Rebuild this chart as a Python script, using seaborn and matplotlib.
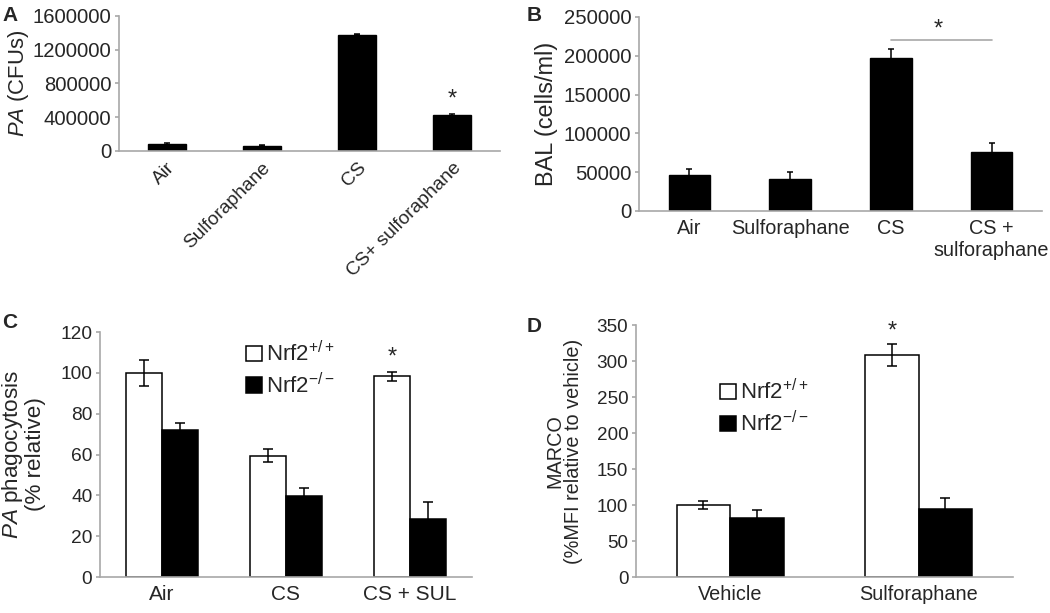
import matplotlib
matplotlib.use('Agg')
import matplotlib.pyplot as plt
from matplotlib.ticker import FixedLocator
import pandas as pd
import seaborn as sns

# panel A
a_groups = ['Air', 'Sulforaphane', 'CS', 'CS+ sulforaphane']
a_values = [85000, 62000, 1380000, 425000]
a_errors = [10000, 5000, 5000, 18000]

# panel B
b_groups = ['Air', 'Sulforaphane', 'CS', 'CS +\nsulforaphane']
b_values = [47000, 41000, 197000, 76000]
b_errors = [7000, 9000, 12000, 12000]

# panel C
c_groups = ['Air', 'CS', 'CS + SUL']
c_wt = [100, 59.5, 98.3]
c_wt_err = [6.3, 3.3, 2.3]
c_ko = [71.8, 39.7, 28.3]
c_ko_err = [3.4, 4.0, 8.5]

# panel D
d_groups = ['Vehicle', 'Sulforaphane']
d_wt = [100, 308]
d_wt_err = [5, 15.5]
d_ko = [82, 95]
d_ko_err = [11.5, 14.5]

genotypes = [r'Nrf2$^{+/+}$', r'Nrf2$^{-/-}$']

sns.set_style('white')
plt.rcParams['font.family'] = ['Liberation Sans', 'DejaVu Sans']
plt.rcParams['mathtext.fontset'] = 'custom'
plt.rcParams['mathtext.rm'] = 'Liberation Sans'
plt.rcParams['mathtext.it'] = 'Liberation Sans:italic'
plt.rcParams['mathtext.default'] = 'regular'

AXIS_GREY = '#a8a8a8'


def style_axes(ax, n_groups, xsize, ysize):
    """Grey axis lines, boundary ticks on x, short ticks on y."""
    for side in ['top', 'right']:
        ax.spines[side].set_visible(False)
    for side in ['left', 'bottom']:
        ax.spines[side].set_color(AXIS_GREY)
        ax.spines[side].set_linewidth(1.2)
    ax.set_xlim(-0.5, n_groups - 0.5)
    ax.tick_params(axis='x', which='major', length=0, labelsize=xsize, pad=6)
    ax.xaxis.set_minor_locator(FixedLocator([i - 0.5 for i in range(n_groups + 1)]))
    ax.tick_params(axis='x', which='minor', length=5, color=AXIS_GREY, width=1.2)
    ax.tick_params(axis='y', length=3, color=AXIS_GREY, width=1.2, labelsize=ysize,
                   pad=2.5, left=True)
    ax.set_xlabel('')


def add_errors(ax, errs_per_hue, capsize):
    for container, errs in zip(ax.containers, errs_per_hue):
        xs = [b.get_x() + b.get_width() / 2 for b in container]
        ys = [b.get_height() for b in container]
        ax.errorbar(xs, ys, yerr=errs, fmt='none', ecolor='black',
                    elinewidth=1.1, capsize=capsize, capthick=1.1, zorder=3)


fig = plt.figure(figsize=(10.5, 6.13), dpi=100)

# ---- A
ax_a = fig.add_axes([0.1133, 0.7537, 0.3629, 0.2202])
df_a = pd.DataFrame({'group': a_groups, 'value': a_values})
sns.barplot(data=df_a, x='group', y='value', color='black', edgecolor='black',
            width=0.4, errorbar=None, ax=ax_a)
add_errors(ax_a, [a_errors], 2.5)
style_axes(ax_a, 4, 13.8, 14.6)
ax_a.set_ylim(0, 1600000)
ax_a.set_yticks([0, 400000, 800000, 1200000, 1600000])
ax_a.ticklabel_format(axis='y', style='plain')
ax_a.set_ylabel(r'$\it{PA}$ (CFUs)', fontsize=15.8)
ax_a.yaxis.set_label_coords(-0.232, 0.5)
plt.setp(ax_a.get_xticklabels(), rotation=45, ha='right', rotation_mode='anchor')
ax_a.text(3, 480000, '*', ha='center', va='bottom', fontsize=17)

# ---- B
ax_b = fig.add_axes([0.6086, 0.6558, 0.3838, 0.3165])
df_b = pd.DataFrame({'group': b_groups, 'value': b_values})
sns.barplot(data=df_b, x='group', y='value', color='black', edgecolor='black',
            width=0.41, errorbar=None, ax=ax_b)
add_errors(ax_b, [b_errors], 2.5)
style_axes(ax_b, 4, 14.3, 14.6)
ax_b.set_ylim(0, 250000)
ax_b.set_yticks(range(0, 250001, 50000))
ax_b.set_ylabel('BAL (cells/ml)', fontsize=16.9)
ax_b.yaxis.set_label_coords(-0.2, 0.5)
ax_b.plot([2, 3], [220000, 220000], color=AXIS_GREY, lw=1.2)
ax_b.text(2.47, 220000, '*', ha='center', va='bottom', fontsize=17)

# ---- C
ax_c = fig.add_axes([0.0952, 0.0587, 0.3543, 0.3997])
df_c = pd.DataFrame({
    'group': c_groups * 2,
    'genotype': [genotypes[0]] * 3 + [genotypes[1]] * 3,
    'value': c_wt + c_ko,
})
sns.barplot(data=df_c, x='group', y='value', hue='genotype',
            palette=['white', 'black'], edgecolor='black', linewidth=1.1,
            width=0.58, gap=0, errorbar=None, ax=ax_c)
add_errors(ax_c, [c_wt_err, c_ko_err], 3.5)
style_axes(ax_c, 3, 15, 13.8)
ax_c.set_ylim(0, 120)
ax_c.set_yticks(range(0, 121, 20))
ax_c.set_ylabel('$\\it{PA}$ phagocytosis\n(% relative)', fontsize=16.2, linespacing=1.0)
ax_c.yaxis.set_label_coords(-0.145, 0.5)
ax_c.text(2 - 0.145, 102, '*', ha='center', va='bottom', fontsize=17)
sns.move_legend(ax_c, 'upper left', bbox_to_anchor=(0.37, 1.0), frameon=False,
                title=None, fontsize=16, handlelength=0.7, handleheight=0.7,
                handletextpad=0.2, labelspacing=0.3, borderaxespad=0)

# ---- D
ax_d = fig.add_axes([0.6057, 0.0587, 0.359, 0.4111])
df_d = pd.DataFrame({
    'group': d_groups * 2,
    'genotype': [genotypes[0]] * 2 + [genotypes[1]] * 2,
    'value': d_wt + d_ko,
})
sns.barplot(data=df_d, x='group', y='value', hue='genotype',
            palette=['white', 'black'], edgecolor='black', linewidth=1.1,
            width=0.568, gap=0, errorbar=None, ax=ax_d)
add_errors(ax_d, [d_wt_err, d_ko_err], 3.5)
style_axes(ax_d, 2, 14.3, 13.6)
ax_d.set_ylim(0, 350)
ax_d.set_yticks(range(0, 351, 50))
ax_d.set_ylabel('MARCO\n(%MFI relative to vehicle)', fontsize=14.3, linespacing=1.0)
ax_d.yaxis.set_label_coords(-0.14, 0.5)
ax_d.text(1 - 0.142, 326, '*', ha='center', va='bottom', fontsize=17)
sns.move_legend(ax_d, 'upper left', bbox_to_anchor=(0.2, 0.82), frameon=False,
                title=None, fontsize=16, handlelength=0.7, handleheight=0.7,
                handletextpad=0.2, labelspacing=0.3, borderaxespad=0)

# panel letters
for letter, (x, y) in zip('ABCD', [(0.002, 0.99), (0.502, 0.99),
                                   (0.002, 0.49), (0.502, 0.483)]):
    fig.text(x, y, letter, fontsize=15, fontweight='bold', va='top')

fig.savefig('out.png', dpi=100)
